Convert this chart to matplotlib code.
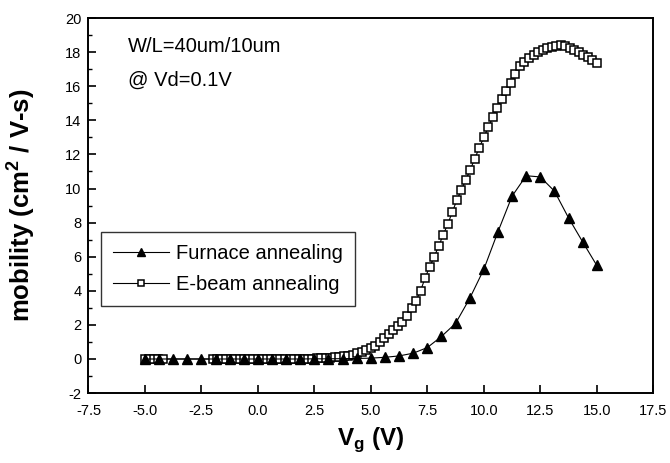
import matplotlib
matplotlib.use("Agg")
import matplotlib.pyplot as plt
from matplotlib.ticker import MultipleLocator, FormatStrFormatter

plt.rcParams['font.family'] = ['Liberation Sans', 'DejaVu Sans']
plt.rcParams['axes.unicode_minus'] = False
plt.rcParams['mathtext.fontset'] = 'custom'
plt.rcParams['mathtext.rm'] = 'Liberation Sans'
plt.rcParams['mathtext.bf'] = 'Liberation Sans:bold'

# Furnace annealing (filled triangles)
furnace_vg = [-5.0, -4.375, -3.75, -3.125, -2.5, -1.875, -1.25, -0.625, 0.0,
              0.625, 1.25, 1.875, 2.5, 3.125, 3.75, 4.375, 5.0, 5.625, 6.25,
              6.875, 7.5, 8.125, 8.75, 9.375, 10.0, 10.625, 11.25, 11.875,
              12.5, 13.125, 13.75, 14.375, 15.0]
furnace_mu = [0.0, 0.0, 0.0, 0.0, 0.0, 0.0, 0.0, 0.0, 0.0,
              0.0, 0.0, 0.0, 0.01, 0.01, 0.02, 0.03, 0.05, 0.1, 0.18,
              0.34, 0.67, 1.32, 2.09, 3.55, 5.26, 7.46, 9.55, 10.75,
              10.68, 9.85, 8.28, 6.87, 5.49]

# E-beam annealing (open squares)
ebeam_vg = [-5.0, -4.8, -4.6, -4.4, -4.2,
            -2.0, -1.8, -1.6, -1.4, -1.2, -1.0, -0.8, -0.6, -0.4, -0.2,
            0.0, 0.2, 0.4, 0.6, 0.8, 1.0, 1.2, 1.4, 1.6, 1.8,
            2.0, 2.2, 2.4, 2.6, 2.8, 3.0, 3.2, 3.4, 3.6, 3.8,
            4.0, 4.2, 4.4, 4.6, 4.8, 5.0, 5.2, 5.4, 5.6, 5.8,
            6.0, 6.2, 6.4, 6.6, 6.8, 7.0, 7.2, 7.4, 7.6, 7.8,
            8.0, 8.2, 8.4, 8.6, 8.8, 9.0, 9.2, 9.4, 9.6, 9.8,
            10.0, 10.2, 10.4, 10.6, 10.8, 11.0, 11.2, 11.4, 11.6, 11.8,
            12.0, 12.2, 12.4, 12.6, 12.8, 13.0, 13.2, 13.4, 13.6, 13.8,
            14.0, 14.2, 14.4, 14.6, 14.8, 15.0]
ebeam_mu = [0.0, 0.0, 0.0, 0.0, 0.0,
            0.0, 0.0, 0.0, 0.0, 0.0, 0.0, 0.0, 0.0, 0.0, 0.0,
            0.0, 0.0, 0.0, 0.0, 0.0, 0.0, 0.0, 0.0, 0.01, 0.01,
            0.01, 0.01, 0.02, 0.03, 0.04, 0.05, 0.07, 0.09, 0.12, 0.16,
            0.2, 0.26, 0.33, 0.42, 0.52, 0.62, 0.78, 1.0, 1.23, 1.47,
            1.7, 1.92, 2.15, 2.5, 2.98, 3.42, 4.0, 4.75, 5.4, 5.98,
            6.62, 7.27, 7.9, 8.6, 9.3, 9.9, 10.5, 11.1, 11.75, 12.4,
            13.0, 13.6, 14.2, 14.75, 15.25, 15.75, 16.2, 16.7, 17.2, 17.45,
            17.65, 17.85, 18.0, 18.13, 18.25, 18.33, 18.38, 18.4, 18.36, 18.27,
            18.15, 18.0, 17.85, 17.7, 17.55, 17.35]

x_ticks = [-7.5, -5.0, -2.5, 0.0, 2.5, 5.0, 7.5, 10.0, 12.5, 15.0, 17.5]
y_ticks = [-2, 0, 2, 4, 6, 8, 10, 12, 14, 16, 18, 20]

fig = plt.figure(figsize=(6.70, 4.63), dpi=100)
ax = fig.add_axes([0.132, 0.151, 0.843, 0.810])

ax.plot(furnace_vg, furnace_mu, color='black', lw=0.8, marker='^',
        markersize=7, markerfacecolor='black', markeredgecolor='black',
        label='Furnace annealing', zorder=3)
ax.plot(ebeam_vg, ebeam_mu, color='black', lw=0.8, marker='s',
        markersize=5.8, markerfacecolor='white', markeredgecolor='black',
        markeredgewidth=1.1, label='E-beam annealing', zorder=2)

ax.set_xlim(-7.5, 17.5)
ax.set_ylim(-2, 20)
ax.set_xticks(x_ticks)
ax.xaxis.set_major_formatter(FormatStrFormatter('%.1f'))
ax.set_yticks(y_ticks)
ax.yaxis.set_minor_locator(MultipleLocator(1))

ax.tick_params(axis='both', which='major', direction='in', length=5.5,
               width=1.2, labelsize=10.5, top=False, right=False)
ax.tick_params(axis='x', which='major', pad=8)
ax.tick_params(axis='y', which='major', pad=5)
ax.tick_params(axis='y', which='minor', direction='in', length=3,
               width=1.0, right=False)
for s in ax.spines.values():
    s.set_linewidth(1.4)

ax.set_xlabel(r'V$_{\mathbf{g}}$ (V)', fontsize=17.5, fontweight='bold')
ax.set_ylabel(r'mobility (cm$^{\mathbf{2}}$ / V-s)', fontsize=18.5,
              fontweight='bold')
ax.xaxis.set_label_coords(0.5, -0.125)
ax.yaxis.set_label_coords(-0.121, 0.5)
ax.xaxis.label.set_va('center')
ax.yaxis.label.set_va('center')

ax.text(0.070, 0.923, 'W/L=40um/10um', transform=ax.transAxes,
        fontsize=14.5, va='center', ha='left')
ax.text(0.070, 0.835, '@ Vd=0.1V', transform=ax.transAxes,
        fontsize=14.5, va='center', ha='left')

leg = ax.legend(loc='upper left', bbox_to_anchor=(0.022, 0.429),
                fontsize=14.5, handlelength=2.8, frameon=True, fancybox=False,
                edgecolor='black', borderpad=0.6, labelspacing=0.6,
                handletextpad=0.35, borderaxespad=0, markerscale=0.8)
leg.get_frame().set_linewidth(1.0)

fig.savefig('out.png', dpi=100)
